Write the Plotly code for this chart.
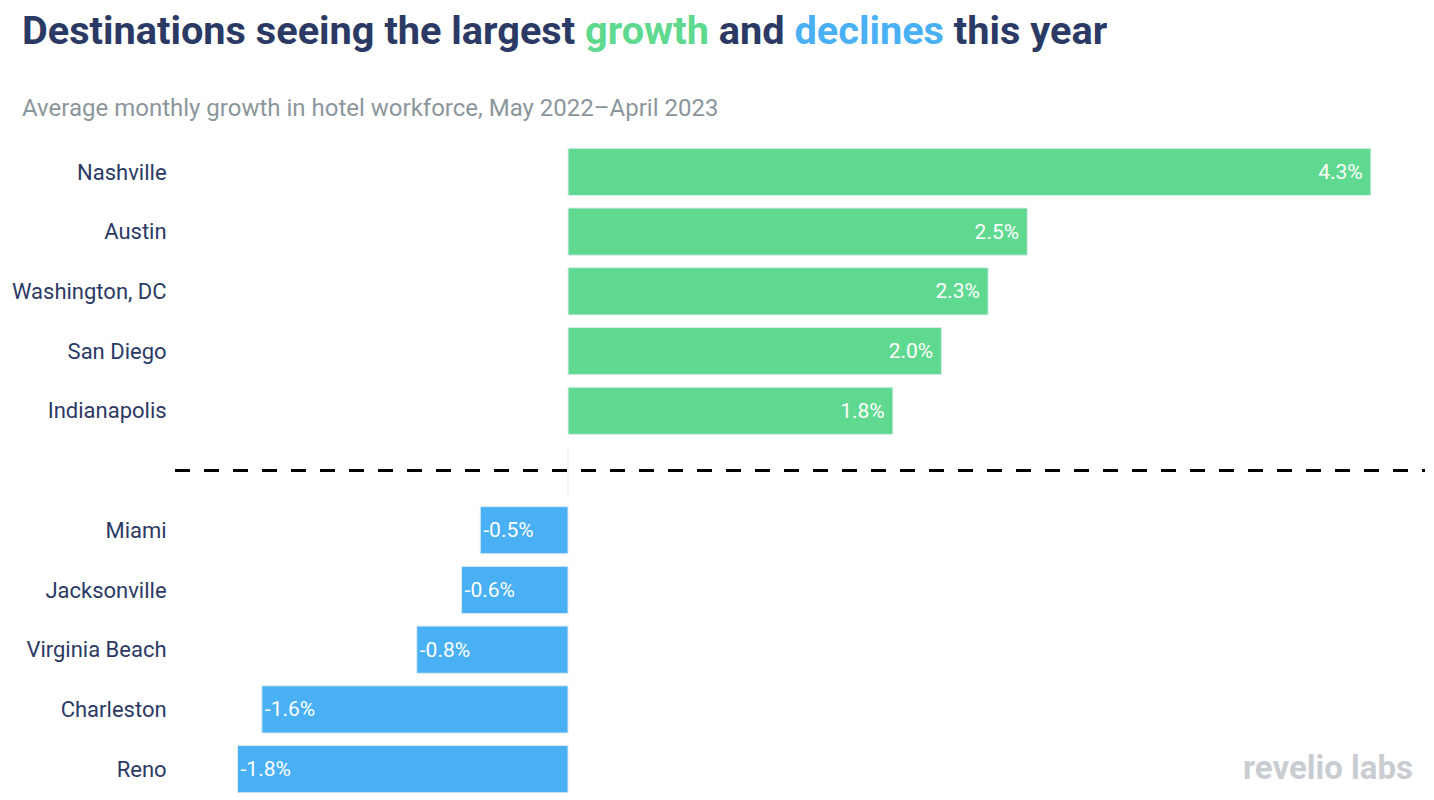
import plotly.graph_objects as go

cities = ["Nashville", "Austin", "Washington, DC", "San Diego", "Indianapolis",
          "Miami", "Jacksonville", "Virginia Beach", "Charleston", "Reno"]
growth = [4.30, 2.46, 2.25, 2.00, 1.74, -0.47, -0.57, -0.81, -1.64, -1.77]
value_labels = ["4.3% ", "2.5% ", "2.3% ", "2.0% ", "1.8% ",
                "-0.5%", "-0.6%", "-0.8%", "-1.6%", "-1.8%"]
slots = [0, 1, 2, 3, 4, 6, 7, 8, 9, 10]

GREEN = "#5fd98f"
BLUE = "#49b0f4"
NAVY = "#2b3a64"

colors = [GREEN if v > 0 else BLUE for v in growth]

fig = go.Figure()
fig.add_trace(go.Bar(
    x=growth, y=slots, orientation="h",
    marker=dict(color=colors, line=dict(color="#dcebf3", width=1)),
    width=0.79,
    text=value_labels, textposition="inside", insidetextanchor="end",
    textfont=dict(color="white", size=21, family="Roboto"),
    cliponaxis=False, hoverinfo="skip",
))

fig.add_shape(type="line", xref="paper", yref="y", x0=0, x1=1, y0=5, y1=5,
              line=dict(color="black", width=3, dash="15px,14px"))
fig.add_shape(type="line", xref="x", yref="y", x0=0, x1=0, y0=4.62, y1=5.4,
              line=dict(color="#e3eaf5", width=1), layer="below")

title_html = (f"<b><span style='color:{NAVY}'>Destinations seeing the largest </span>"
              f"<span style='color:{GREEN}'>growth</span>"
              f"<span style='color:{NAVY}'> and </span>"
              f"<span style='color:{BLUE}'>declines</span>"
              f"<span style='color:{NAVY}'> this year</span></b>")

fig.add_annotation(text=title_html, xref="paper", yref="paper", x=-0.1244, y=1.0,
                   xanchor="left", yanchor="bottom", yshift=86, showarrow=False,
                   font=dict(family="Roboto", size=39.7, color=NAVY))
fig.add_annotation(text="Average monthly growth in hotel workforce, May 2022\u2013April 2023",
                   xref="paper", yref="paper", x=-0.1244, y=1.0, xanchor="left",
                   yanchor="bottom", yshift=18, showarrow=False,
                   font=dict(family="Roboto", size=24, color="#8b969c"))
fig.add_annotation(text="<b>revelio labs</b>", xref="paper", yref="paper",
                   x=1.0, y=0.0, xanchor="right", yanchor="bottom", xshift=-10, yshift=10,
                   showarrow=False, font=dict(family="Roboto", size=33, color="#c9cdd2"))

fig.update_layout(
    width=1434, height=800,
    margin=dict(l=167, r=17, t=134, b=9),
    paper_bgcolor="white", plot_bgcolor="white",
    showlegend=False,
    xaxis=dict(range=[-2.105, 4.59], visible=False, fixedrange=True, automargin=False),
    yaxis=dict(range=[10.5, -0.5], tickvals=slots, ticktext=cities,
               tickfont=dict(family="Roboto", size=22, color=NAVY),
               showgrid=False, zeroline=False, showline=False, automargin=False,
               ticks="outside", ticklen=3, tickcolor="rgba(0,0,0,0)"),
)

fig.write_html("out.html")
